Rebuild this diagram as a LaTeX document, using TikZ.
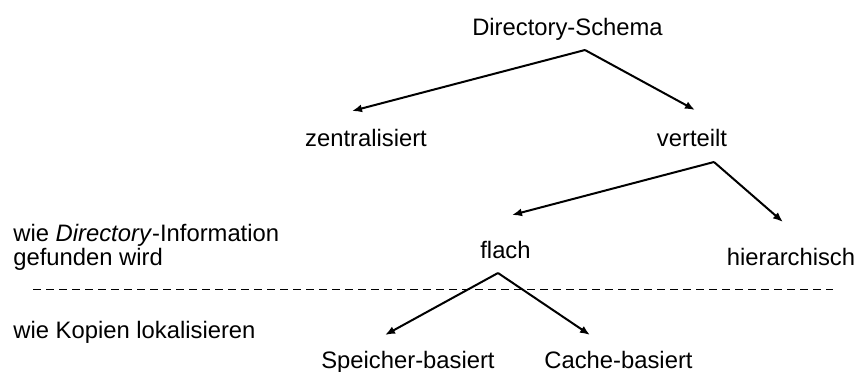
\documentclass[tikz,border=0pt]{standalone}
\usepackage{fontspec}
\setmainfont{Liberation Sans}
\usetikzlibrary{arrows.meta}
\begin{document}
\begin{tikzpicture}[x=0.5pt,y=-0.5pt,
  lbl/.style={inner sep=0pt,font=\fontsize{11.9pt}{14pt}\selectfont},
  branch/.style={line width=1pt,-{Latex[length=5pt,width=4pt]}},
  level/.style={line width=0.5pt,dash pattern=on 4pt off 2.5pt}]
\useasboundingbox (0,0) rectangle (859,371);

% tree labels
\node[lbl,anchor=base] (root) at (567.5,35) {Directory-Schema};
\node[lbl,anchor=base] (zentral) at (366,146) {zentralisiert};
\node[lbl,anchor=base] (verteilt) at (692,146) {verteilt};
\node[lbl,anchor=base] (flach) at (505.5,258) {flach};
\node[lbl,anchor=base] (hier) at (791,265) {hierarchisch};
\node[lbl,anchor=base] (speicher) at (408,368) {Speicher-basiert};
\node[lbl,anchor=base] (cache) at (618.5,368) {Cache-basiert};

% level descriptions
\node[lbl,anchor=base west] (info1) at (13,241) {wie \textit{Directory}-Information};
\node[lbl,anchor=base west] (info2) at (13,265) {gefunden wird};
\node[lbl,anchor=base west] (kopien) at (13,338) {wie Kopien lokalisieren};

% branch points and arrow ends
\coordinate (rootfork) at (585,50);
\coordinate (zentraltip) at (352,111);
\coordinate (verteilttip) at (695,110);
\coordinate (verteiltfork) at (714,162);
\coordinate (flachtip) at (512,215);
\coordinate (hiertip) at (783,222);
\coordinate (flachfork) at (498,273);
\coordinate (speichertip) at (385,335);
\coordinate (cachetip) at (590,335);

\draw[branch] (rootfork) -- (zentraltip);
\draw[branch] (rootfork) -- (verteilttip);
\draw[branch] (verteiltfork) -- (flachtip);
\draw[branch] (verteiltfork) -- (hiertip);
\draw[branch] (flachfork) -- (speichertip);
\draw[branch] (flachfork) -- (cachetip);

% separator between the two levels
\coordinate (sepL) at (33,289);
\coordinate (sepR) at (833,289);
\draw[level] (sepL) -- (sepR);
\end{tikzpicture}
\end{document}
